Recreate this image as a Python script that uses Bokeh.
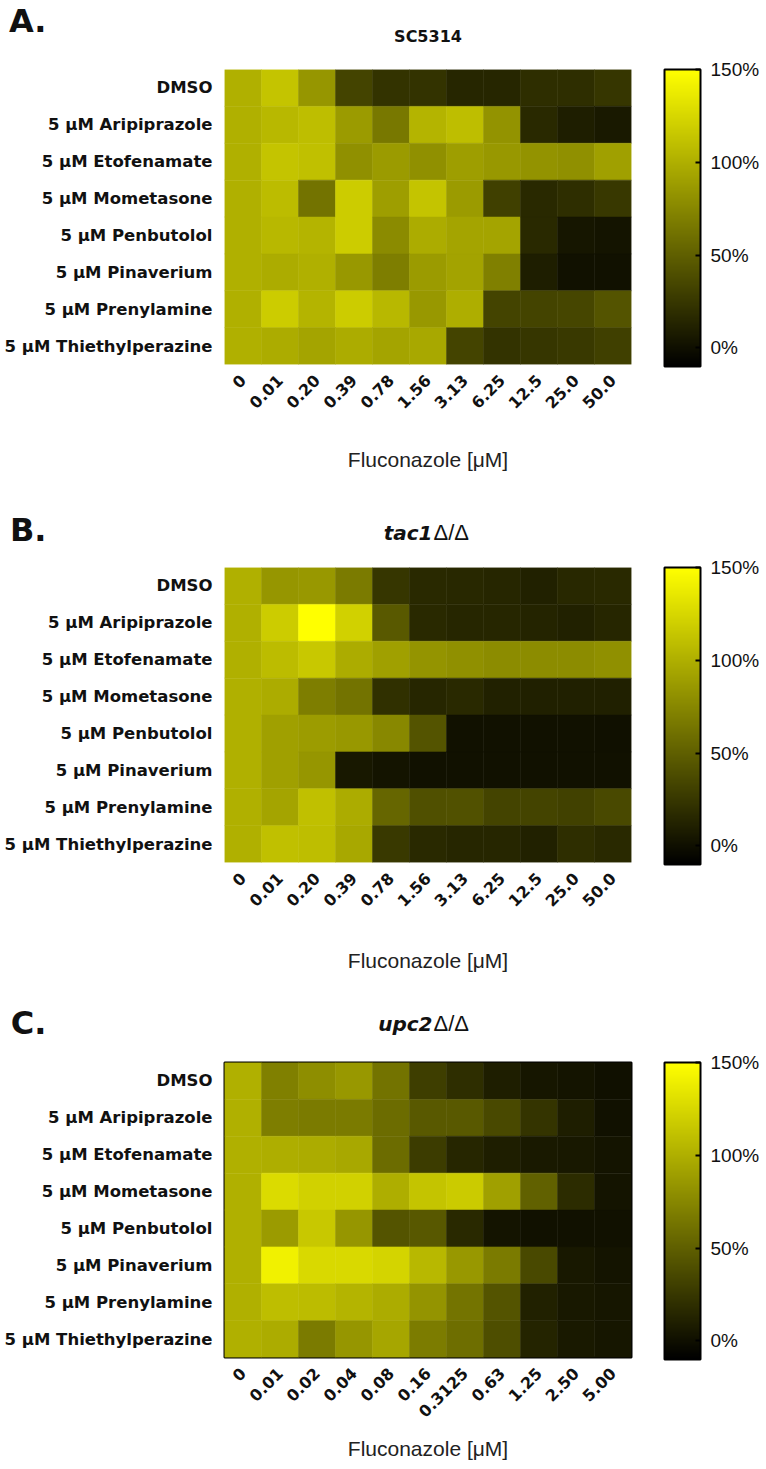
from math import pi
from bokeh.plotting import figure
from bokeh.models import (ColumnDataSource, LinearColorMapper, ColorBar, FixedTicker,
                          PrintfTickFormatter, Range1d)
from bokeh.core.properties import value
from bokeh.layouts import column
from bokeh.embed import file_html
from bokeh.resources import INLINE

drugs = ["DMSO", "5 μM Aripiprazole", "5 μM Etofenamate", "5 μM Mometasone",
         "5 μM Penbutolol", "5 μM Pinaverium", "5 μM Prenylamine", "5 μM Thiethylperazine"]

conc_ab = ["0", "0.01", "0.20", "0.39", "0.78", "1.56", "3.13", "6.25", "12.5", "25.0", "50.0"]
conc_c = ["0", "0.01", "0.02", "0.04", "0.08", "0.16", "0.3125", "0.63", "1.25", "2.50", "5.00"]

# growth (% of no-drug control), one row per drug
growth_sc5314 = [
    [100, 113, 84, 33, 22, 22, 14, 14, 19, 19, 24],
    [100, 105, 109, 87, 65, 103, 109, 82, 16, 9, 6],
    [100, 113, 110, 80, 87, 80, 89, 85, 82, 80, 90],
    [100, 108, 62, 118, 89, 113, 87, 30, 16, 19, 25],
    [100, 105, 103, 118, 77, 98, 93, 93, 16, 4, 3],
    [100, 98, 100, 85, 69, 87, 92, 70, 9, 1, 1],
    [100, 118, 103, 118, 105, 85, 99, 33, 33, 34, 43],
    [100, 98, 93, 98, 93, 95, 33, 22, 24, 26, 30],
]
growth_tac1 = [
    [100, 84, 85, 67, 24, 16, 15, 14, 11, 15, 16],
    [100, 118, 150, 121, 46, 16, 14, 14, 13, 11, 14],
    [100, 108, 115, 98, 90, 83, 80, 78, 78, 78, 80],
    [100, 98, 69, 62, 20, 14, 16, 11, 10, 10, 10],
    [100, 90, 88, 85, 75, 43, 1, 1, 1, 1, 0],
    [100, 90, 84, 5, 3, 1, 1, 1, 1, 1, 1],
    [100, 93, 110, 98, 54, 40, 41, 33, 33, 31, 36],
    [100, 110, 109, 95, 26, 16, 14, 14, 11, 19, 16],
]
growth_upc2 = [
    [100, 70, 79, 85, 62, 29, 19, 9, 4, 3, 0],
    [100, 69, 67, 67, 58, 46, 46, 36, 23, 9, 1],
    [100, 99, 98, 95, 58, 28, 14, 9, 6, 5, 3],
    [100, 127, 121, 121, 99, 113, 117, 90, 51, 18, 3],
    [100, 87, 115, 84, 43, 45, 16, 3, 1, 1, 1],
    [100, 141, 126, 126, 123, 105, 85, 67, 36, 5, 3],
    [100, 109, 108, 103, 98, 83, 63, 43, 11, 5, 4],
    [100, 98, 67, 84, 94, 68, 59, 39, 13, 6, 4],
]

palette = ["#%02x%02x00" % (i, i) for i in range(256)]
BOLD = "DejaVu Sans"
NORM = "Liberation Sans"
W = 766
FRAME_LEFT, FRAME_W, FRAME_H = 224, 407, 295
FRAME_RIGHT = FRAME_LEFT + FRAME_W
INK = "#111111"
LETTER_PX = 32


def header(letter, title, italic_title, hh, letter_base, title_base):
    h = figure(width=W, height=hh, x_range=Range1d(FRAME_LEFT, FRAME_RIGHT),
               y_range=Range1d(hh, 0), output_backend="svg", toolbar_location=None,
               x_axis_type=None, min_border_left=FRAME_LEFT,
               min_border_right=W - FRAME_RIGHT, min_border_top=0, min_border_bottom=0)
    h.grid.grid_line_color = None
    h.outline_line_color = None
    # panel letter, drawn as the single tick label of the left axis
    tick = letter_base - 0.3 * LETTER_PX
    h.yaxis.ticker = FixedTicker(ticks=[tick])
    h.yaxis.major_label_overrides = {tick: letter}
    h.yaxis.axis_line_color = None
    h.yaxis.major_tick_line_color = None
    h.yaxis.minor_tick_line_color = None
    h.yaxis.major_tick_out = 0
    h.yaxis.major_tick_in = 0
    h.yaxis.major_label_text_font = BOLD
    h.yaxis.major_label_text_font_style = "bold"
    h.yaxis.major_label_text_font_size = "%dpx" % LETTER_PX
    h.yaxis.major_label_text_color = INK
    h.yaxis.major_label_standoff = FRAME_LEFT - 10 - int(1.154 * LETTER_PX)
    h.yaxis.major_label_orientation = "horizontal"
    if italic_title:
        h.text(x=[432], y=[title_base], text=[title], text_font=value(BOLD),
               text_font_style="bold italic", text_font_size="20px", text_color=INK,
               text_baseline="alphabetic", text_align="right")
        h.text(x=[433], y=[title_base], text=["Δ/Δ"], text_font=value(NORM),
               text_font_size="22px", text_color=INK,
               text_baseline="alphabetic", text_align="left")
    else:
        h.text(x=[FRAME_LEFT + FRAME_W / 2], y=[title_base], text=[title],
               text_font=value(BOLD), text_font_style="bold", text_font_size="16px",
               text_color=INK, text_baseline="alphabetic", text_align="center")
    return h


def heat(values, concs, height, top, bottom, label_standoff, outline):
    mapper = LinearColorMapper(palette=palette, low=-10, high=150)
    xs, ys, vs = [], [], []
    for drug, row in zip(drugs, values):
        for c, v in zip(concs, row):
            xs.append(c)
            ys.append(drug)
            vs.append(v)
    src = ColumnDataSource(dict(conc=xs, drug=ys, val=vs))
    p = figure(width=W, height=height, x_range=concs, y_range=list(reversed(drugs)),
               output_backend="svg", toolbar_location=None,
               min_border_left=FRAME_LEFT, min_border_right=W - FRAME_RIGHT,
               min_border_top=top, min_border_bottom=bottom)
    p.rect(x="conc", y="drug", width=1, height=1, source=src,
           fill_color={"field": "val", "transform": mapper},
           line_color={"field": "val", "transform": mapper}, line_width=0.5)
    p.grid.grid_line_color = None
    p.axis.axis_line_color = None
    p.axis.major_tick_line_color = None
    p.axis.minor_tick_line_color = None
    p.axis.major_tick_out = 0
    p.axis.major_tick_in = 0
    p.yaxis.major_label_text_font = BOLD
    p.yaxis.major_label_text_font_style = "bold"
    p.yaxis.major_label_text_font_size = "16.5px"
    p.yaxis.major_label_text_color = INK
    p.yaxis.major_label_standoff = 12
    p.xaxis.major_label_orientation = pi / 4
    p.xaxis.major_label_text_font = BOLD
    p.xaxis.major_label_text_font_style = "bold"
    p.xaxis.major_label_text_font_size = "16px"
    p.xaxis.major_label_text_color = INK
    p.xaxis.major_label_standoff = 13
    p.xaxis.axis_label = "Fluconazole [μM]"
    p.xaxis.axis_label_text_font = NORM
    p.xaxis.axis_label_text_font_style = "normal"
    p.xaxis.axis_label_text_font_size = "21px"
    p.xaxis.axis_label_text_color = "#222222"
    p.xaxis.axis_label_standoff = label_standoff
    if outline:
        p.outline_line_color = "black"
        p.outline_line_width = 2
    else:
        p.outline_line_color = None

    cb = ColorBar(color_mapper=mapper, width=36, height=297,
                  ticker=FixedTicker(ticks=[0, 50, 100, 150]),
                  formatter=PrintfTickFormatter(format="%d%%"),
                  major_label_text_font=NORM, major_label_text_font_size="19px",
                  major_label_text_color=INK,
                  major_tick_in=5, major_tick_out=0, major_tick_line_color="black",
                  major_tick_line_width=2, minor_tick_line_color=None,
                  bar_line_color="black", bar_line_width=2,
                  label_standoff=10, margin=0, padding=0,
                  location=(FRAME_W + 33, -2), background_fill_color=None,
                  border_line_color=None)
    p.add_layout(cb)
    return p


ha = header("A.", "SC5314", False, 50, 30, 36)
pa = heat(growth_sc5314, conc_ab, 428, 19, 114, 31, False)
hb = header("B.", "tac1", True, 72, 64, 54)
pb = heat(growth_tac1, conc_ab, 428, 17, 116, 34, False)
hc = header("C.", "upc2", True, 67, 61, 45)
pc = heat(growth_upc2, conc_c, 420, 17, 108, 11, True)

layout = column(ha, pa, hb, pb, hc, pc, spacing=0)
open("out.html", "w").write(file_html(layout, INLINE))
